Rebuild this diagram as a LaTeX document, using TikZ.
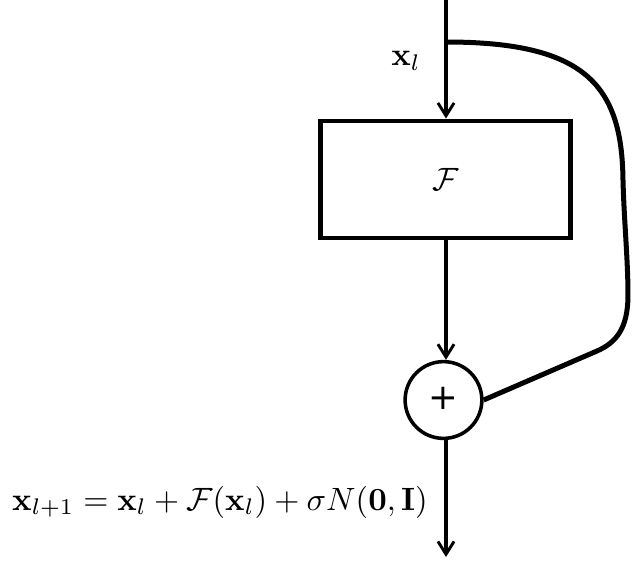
\documentclass[tikz,border=0pt]{standalone}
\usepackage{amsmath,amssymb}
\usepackage[no-math]{fontspec}
\newfontfamily\plusfont{DejaVu Sans}
\usetikzlibrary{arrows.meta}
\begin{document}
\begin{tikzpicture}[x=0.31pt,y=-0.31pt,
  flow/.style={line width=1.25pt,-{Straight Barb[length=4pt,width=5pt,line width=0.9pt]}},
  fbox/.style={draw,line width=1.3pt,minimum width=77.5pt,minimum height=36.5pt,inner sep=0pt},
  sumnode/.style={draw,circle,line width=1.1pt,minimum size=23.8pt,inner sep=0pt,
    font=\fontsize{11}{12}\plusfont},
  skip/.style={line width=1.55pt,line join=round}]
\useasboundingbox (0,0) rectangle (641,571);
\coordinate (top) at (446,-5);
\coordinate (split) at (446,42);
\node[fbox] (F) at (445.5,179.5) {$\mathcal{F}$};
\node[sumnode] (plus) at (443.5,400) {\raisebox{1pt}{+}};
\coordinate (bottom) at (446,557);
\node (xl) at (406,61) {$\mathbf{x}_l$};
\node (eq) at (220,502) {$\mathbf{x}_{l+1}=\mathbf{x}_l+\mathcal{F}(\mathbf{x}_l)+\sigma N(\mathbf{0},\mathbf{I})$};
\draw[flow] (top) -- (F.north -| top);
\draw[flow] (F.south -| top) -- (plus.north -| top);
\draw[flow] (plus.south -| top) -- (bottom);
\draw[skip] (split) .. controls (585,42) and (622,85) .. (623,180)
  .. controls (624,220) and (628,260) .. (628,295)
  .. controls (628,330) and (615,343) .. (597,351)
  -- (plus.east);
\end{tikzpicture}
\end{document}
